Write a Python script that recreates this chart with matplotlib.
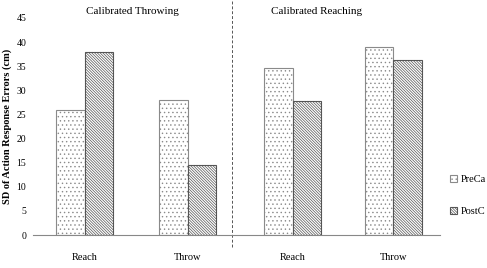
import matplotlib
matplotlib.use('agg')
import matplotlib.pyplot as plt
import numpy as np

categories = ['Reach', 'Throw', 'Reach', 'Throw']
panel_titles = ['Calibrated Throwing', 'Calibrated Reaching']
pre_values = [26, 28, 34.7, 39]
post_values = [38, 14.5, 27.7, 36.2]
series_names = ['PreCa', 'PostC']
y_ticks = [0, 5, 10, 15, 20, 25, 30, 35, 40, 45]

plt.rcParams['font.family'] = ['Liberation Serif', 'DejaVu Serif']
plt.rcParams['hatch.linewidth'] = 0.5

fig = plt.figure(figsize=(4.87, 2.68), dpi=100)
ax = fig.add_axes([0.068, 0.123, 0.835, 0.81])

x = np.array([0, 1, 2.02, 3.0])
width = 0.28
b1 = ax.bar(x - width / 2, pre_values, width, color='white', edgecolor='#8a8a8a',
            hatch='....', linewidth=0.8, label=series_names[0])
b2 = ax.bar(x + width / 2, post_values, width, color='white', edgecolor='#555555',
            hatch='\\' * 12, linewidth=0.8, label=series_names[1])

ax.set_xlim(-0.5, 3.45)
ax.set_ylim(0, 45)
ax.set_yticks(y_ticks)
ax.tick_params(axis='y', length=0, labelsize=7, pad=5)
ax.set_xticks(x)
ax.set_xticklabels(categories)
ax.tick_params(axis='x', length=0, labelsize=7.5, pad=13)
for s in ['top', 'right', 'left']:
    ax.spines[s].set_visible(False)
ax.spines['bottom'].set_color('#888888')
ax.spines['bottom'].set_linewidth(0.8)

ax.set_ylabel('SD of Action Response Errors (cm)', fontsize=7.5, fontweight='bold', labelpad=3)

ax.plot([1.43, 1.43], [-2.5, 49.5], color='#555555', lw=0.7, ls=(0, (3, 2)),
        clip_on=False)
ax.text(0.46, 46.4, panel_titles[0], ha='center', va='center', fontsize=8)
ax.text(2.25, 46.4, panel_titles[1], ha='center', va='center', fontsize=8)

fig.legend(handles=[b1, b2], labels=series_names, loc='center left',
           bbox_to_anchor=(0.905, 0.27), frameon=False, fontsize=7.5,
           handlelength=0.7, handleheight=0.7, handletextpad=0.3, labelspacing=2.2)

fig.savefig('out.png', dpi=100)
